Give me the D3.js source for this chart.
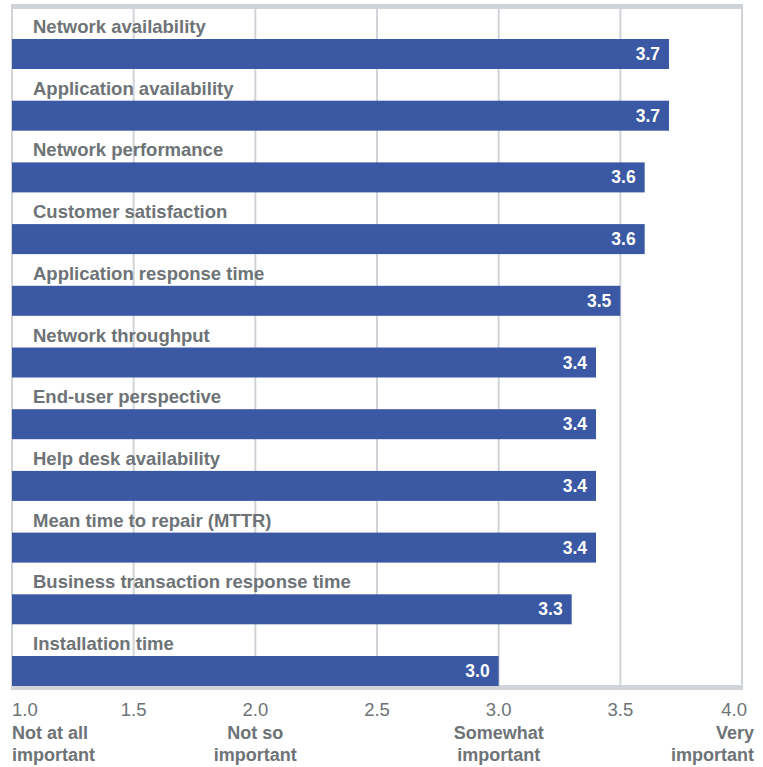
<!DOCTYPE html>
<html>
<head>
<meta charset="utf-8">
<script src="https://cdn.jsdelivr.net/npm/d3@7"></script>
<style>
  html, body { margin: 0; padding: 0; background: #fff; }
  svg { display: block; }
  text { font-family: Arial, "Liberation Sans", Helvetica, sans-serif; }
</style>
</head>
<body>
<svg id="chart" width="763" height="767"></svg>
<script>
const categories = [
  "Network availability",
  "Application availability",
  "Network performance",
  "Customer satisfaction",
  "Application response time",
  "Network throughput",
  "End-user perspective",
  "Help desk availability",
  "Mean time to repair (MTTR)",
  "Business transaction response time",
  "Installation time"
];
const values = [3.7, 3.7, 3.6, 3.6, 3.5, 3.4, 3.4, 3.4, 3.4, 3.3, 3.0];
const tickValues = [1.0, 1.5, 2.0, 2.5, 3.0, 3.5, 4.0];
const tickSubLabels = {
  1.0: ["Not at all", "important"],
  2.0: ["Not so", "important"],
  3.0: ["Somewhat", "important"],
  4.0: ["Very", "important"]
};

const svg = d3.select("#chart");
const plotLeft = 12, plotRight = 742, plotTop = 9, plotBottom = 686;
const x = d3.scaleLinear().domain([1, 4]).range([plotLeft, plotRight]);
const y = d3.scaleBand().domain(categories).range([39, 686]).paddingInner(0.5138).paddingOuter(0);

const gray = "#6d7376";
const gridColor = "#d0d3d7";
const barColor = "#3a58a3";

// gridlines
svg.append("g").selectAll("line").data(tickValues.filter(t => t > 1 && t < 4)).join("line")
  .attr("x1", d => x(d)).attr("x2", d => x(d))
  .attr("y1", plotTop).attr("y2", plotBottom)
  .attr("stroke", gridColor).attr("stroke-width", 2);

// frame
svg.append("rect").attr("x", plotLeft - 1).attr("y", 4).attr("width", plotRight - plotLeft + 2).attr("height", 5).attr("fill", gridColor);
svg.append("line").attr("x1", plotLeft).attr("x2", plotLeft).attr("y1", plotTop).attr("y2", plotBottom).attr("stroke", gridColor).attr("stroke-width", 2);
svg.append("line").attr("x1", plotRight).attr("x2", plotRight).attr("y1", plotTop).attr("y2", plotBottom).attr("stroke", gridColor).attr("stroke-width", 2);
svg.append("rect").attr("x", plotLeft - 1).attr("y", plotBottom - 1).attr("width", plotRight - plotLeft + 2).attr("height", 5).attr("fill", gridColor);

// bars
svg.append("g").selectAll("rect").data(categories).join("rect")
  .attr("x", x(1))
  .attr("y", d => y(d))
  .attr("width", (d, i) => x(values[i]) - x(1))
  .attr("height", y.bandwidth())
  .attr("fill", barColor);

// category labels
svg.append("g").selectAll("text").data(categories).join("text")
  .attr("x", 33)
  .attr("y", d => y(d) - 6)
  .attr("fill", gray)
  .attr("font-size", "18.5px")
  .attr("font-weight", "bold")
  .text(d => d);

// value labels
svg.append("g").selectAll("text").data(categories).join("text")
  .attr("x", (d, i) => x(values[i]) - 9)
  .attr("y", d => y(d) + y.bandwidth() / 2 + 6)
  .attr("text-anchor", "end")
  .attr("fill", "#fff")
  .attr("font-size", "17.5px")
  .attr("font-weight", "bold")
  .text((d, i) => values[i].toFixed(1));

// x axis tick labels
const anchorFor = t => t === 1 ? "start" : (t === 4 ? "end" : "middle");
const xPosFor = t => t === 1 ? x(t) : (t === 4 ? x(t) + 5 : x(t));
svg.append("g").selectAll("text").data(tickValues).join("text")
  .attr("x", d => xPosFor(d))
  .attr("y", 716)
  .attr("text-anchor", d => anchorFor(d))
  .attr("fill", gray)
  .attr("font-size", "18.5px")
  .text(d => d.toFixed(1));

const subG = svg.append("g");
tickValues.filter(t => tickSubLabels[t]).forEach(t => {
  const sx = t === 1 ? x(t) : (t === 4 ? x(t) + 12 : x(t));
  tickSubLabels[t].forEach((line, j) => {
    subG.append("text")
      .attr("x", sx)
      .attr("y", 739 + j * 21.5)
      .attr("text-anchor", anchorFor(t))
      .attr("fill", gray)
      .attr("font-size", "18px")
      .attr("font-weight", "bold")
      .text(line);
  });
});
</script>
</body>
</html>
